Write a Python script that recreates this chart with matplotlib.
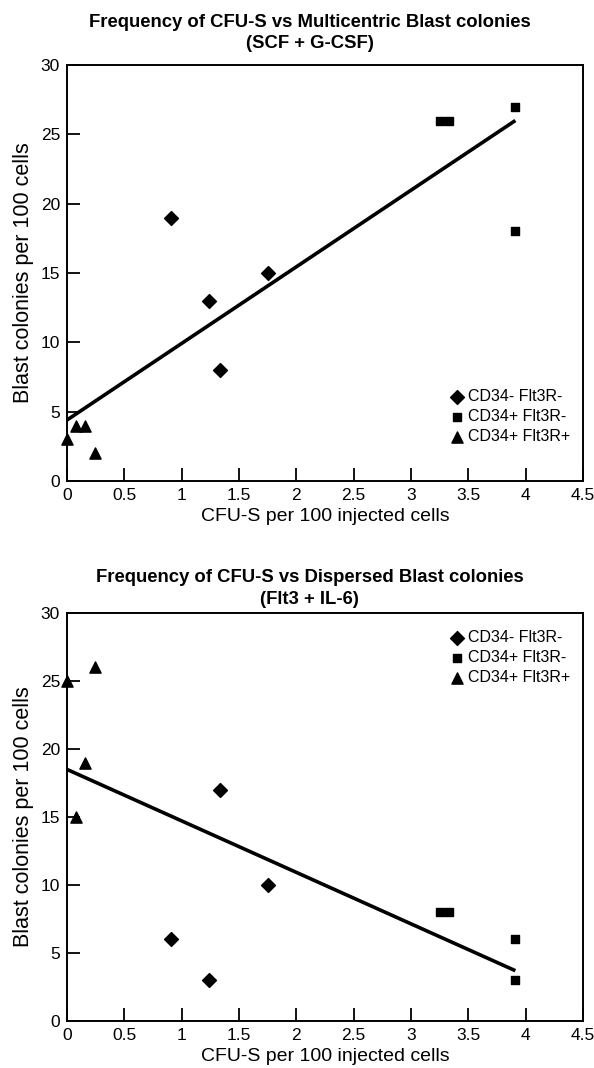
import numpy as np
import matplotlib.pyplot as plt

plt.rcParams['font.family'] = ['Liberation Sans', 'DejaVu Sans']

# group values (CFU-S per 100 cells) - same cell populations in both panels
x_neg_neg = [0.91, 1.24, 1.33, 1.75]      # CD34- Flt3R-
x_pos_neg = [3.25, 3.33, 3.91, 3.91]      # CD34+ Flt3R-
x_pos_pos = [0.0, 0.08, 0.16, 0.24]       # CD34+ Flt3R+

# multicentric blast colonies (SCF + G-CSF)
y1_neg_neg = [19, 13, 8, 15]
y1_pos_neg = [26, 26, 27, 18]
y1_pos_pos = [3, 4, 4, 2]
trend1_x = [0.0, 3.91]
trend1_y = [4.4, 26.0]

# dispersed blast colonies (Flt3 + IL-6)
y2_neg_neg = [6, 3, 17, 10]
y2_pos_neg = [8, 8, 6, 3]
y2_pos_pos = [25, 15, 19, 26]
trend2_x = [0.0, 3.91]
trend2_y = [18.5, 3.7]

titles = ['Frequency of CFU-S vs Multicentric Blast colonies\n(SCF + G-CSF)',
          'Frequency of CFU-S vs Dispersed Blast colonies\n(Flt3 + IL-6)']
labels = ['CD34- Flt3R-', 'CD34+ Flt3R-', 'CD34+ Flt3R+']

fig = plt.figure(figsize=(5.94, 10.68), dpi=100)
ax1 = fig.add_axes([0.1128, 0.5496, 0.8687, 0.3895])
ax2 = fig.add_axes([0.1128, 0.0440, 0.8687, 0.382])

panels = [
    (ax1, [y1_neg_neg, y1_pos_neg, y1_pos_pos], trend1_x, trend1_y, (0.728, 0.236), 12),
    (ax2, [y2_neg_neg, y2_pos_neg, y2_pos_pos], trend2_x, trend2_y, (0.728, 0.9745), 6.5),
]

for i, (ax, ys, tx, ty, anchor, tpad) in enumerate(panels):
    ax.plot(tx, ty, color='black', lw=2.6, solid_capstyle='butt', zorder=2)
    ax.scatter(x_neg_neg, ys[0], marker='D', s=50, color='black', label=labels[0], clip_on=False, zorder=3)
    ax.scatter(x_pos_neg, ys[1], marker='s', s=40, color='black', label=labels[1], clip_on=False, zorder=3)
    ax.scatter(x_pos_pos, ys[2], marker='^', s=65, color='black', label=labels[2], clip_on=False, zorder=3)

    ax.set_xlim(0, 4.5)
    ax.set_ylim(0, 30)
    ax.set_xticks(np.arange(0, 4.51, 0.5))
    ax.set_xticklabels(['0', '0.5', '1', '1.5', '2', '2.5', '3', '3.5', '4', '4.5'])
    ax.set_yticks(range(0, 31, 5))
    ax.tick_params(direction='in', length=9.5, width=1.3, labelsize=12.5, pad=5)
    for s in ax.spines.values():
        s.set_linewidth(1.4)

    ax.set_xlabel('CFU-S per 100 injected cells', fontsize=14, labelpad=3.5)
    ax.set_ylabel('Blast colonies per 100 cells', fontsize=15.5, labelpad=5)
    ax.set_title(titles[i], fontsize=13.3, fontweight='bold', pad=tpad,
                 linespacing=1.35, x=0.47)

    ax.legend(loc='upper left', bbox_to_anchor=anchor, frameon=False, fontsize=11.5,
              handlelength=1.0, handletextpad=0.2, labelspacing=0.32,
              borderaxespad=0.0, borderpad=0.4)

fig.savefig('out.png', dpi=100)
